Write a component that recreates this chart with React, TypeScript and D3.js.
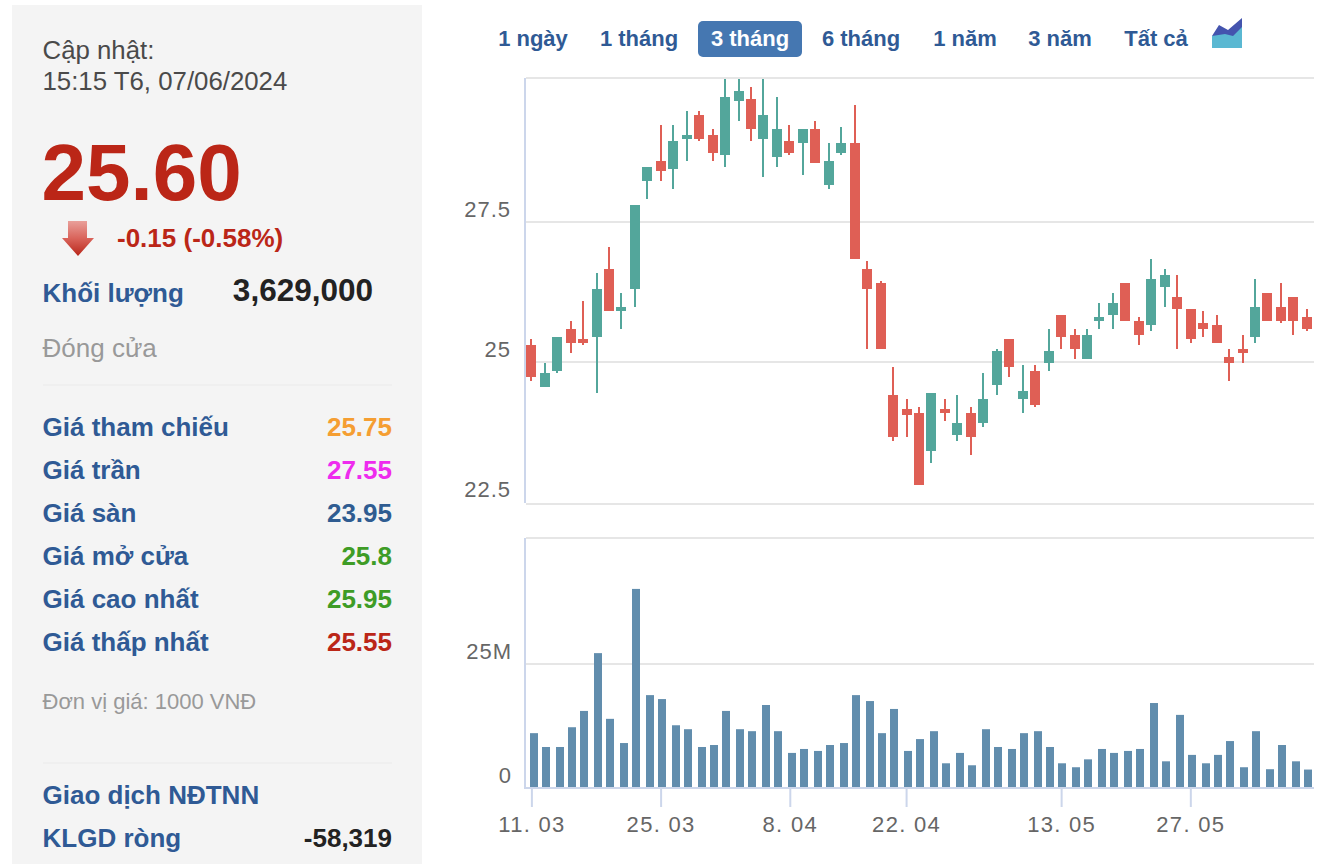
import { useEffect, useRef } from 'react';
import * as d3 from 'd3';

const dates = [
  '11. 03', '12. 03', '13. 03', '14. 03', '15. 03', '18. 03', '19. 03', '20. 03', '21. 03', '22. 03',
  '25. 03', '26. 03', '27. 03', '28. 03', '29. 03', '1. 04', '2. 04', '3. 04', '4. 04', '5. 04',
  '8. 04', '9. 04', '10. 04', '11. 04', '12. 04', '15. 04', '16. 04', '17. 04', '19. 04', '22. 04',
  '23. 04', '24. 04', '25. 04', '26. 04', '2. 05', '3. 05', '6. 05', '7. 05', '8. 05', '9. 05',
  '10. 05', '13. 05', '14. 05', '15. 05', '16. 05', '17. 05', '20. 05', '21. 05', '22. 05', '23. 05',
  '24. 05', '27. 05', '28. 05', '29. 05', '30. 05', '31. 05', '3. 06', '4. 06', '5. 06', '6. 06', '7. 06',
];
const opens = [
  25.3, 24.55, 24.85, 25.6, 25.4, 25.45, 26.65, 25.9, 26.3, 28.25,
  28.6, 28.45, 29.0, 29.4, 29.05, 28.7, 29.65, 29.7, 29.0, 28.65,
  28.95, 28.9, 29.15, 28.15, 28.75, 28.9, 26.65, 26.4, 24.4, 24.15,
  24.1, 23.4, 24.15, 23.7, 24.1, 23.9, 24.6, 25.4, 24.35, 24.85,
  25.0, 25.85, 25.5, 25.05, 25.75, 25.85, 26.4, 25.75, 25.65, 26.35,
  26.15, 25.95, 25.7, 25.65, 25.1, 25.25, 25.45, 26.25, 26.0, 26.15, 25.8,
];
const highs = [
  25.4, 25.0, 25.45, 25.75, 26.1, 26.6, 27.05, 26.25, 27.8, 28.5,
  29.25, 29.25, 29.5, 29.5, 29.15, 30.2, 30.2, 29.9, 30.2, 29.75,
  29.25, 29.15, 29.3, 28.9, 29.2, 29.6, 26.8, 26.45, 24.9, 24.35,
  24.2, 24.45, 24.35, 24.4, 24.2, 24.8, 25.25, 25.4, 24.95, 24.95,
  25.6, 25.85, 25.6, 25.6, 26.05, 26.25, 26.4, 25.8, 26.85, 26.65,
  26.55, 25.95, 25.9, 25.85, 25.25, 25.5, 26.5, 26.25, 26.4, 26.15, 25.95,
];
const lows = [
  24.65, 24.55, 24.8, 25.15, 25.3, 24.45, 25.9, 25.6, 26.0, 27.9,
  28.25, 28.1, 28.6, 28.95, 28.6, 28.5, 29.3, 28.95, 28.3, 28.5,
  28.7, 28.35, 28.55, 28.1, 28.7, 26.85, 25.25, 25.25, 23.6, 23.65,
  22.8, 23.2, 23.95, 23.6, 23.35, 23.85, 24.4, 24.75, 24.1, 24.2,
  24.85, 25.25, 25.05, 25.05, 25.6, 25.6, 25.75, 25.3, 25.55, 26.0,
  25.25, 25.35, 25.45, 25.35, 24.65, 25.0, 25.35, 25.75, 25.7, 25.5, 25.55,
];
const closes = [
  24.75, 24.8, 25.45, 25.35, 25.35, 26.3, 25.9, 26.0, 27.8, 28.5,
  28.4, 28.95, 29.05, 29.0, 28.75, 29.75, 29.85, 29.15, 29.4, 29.15,
  28.75, 29.15, 28.55, 28.6, 28.9, 26.85, 26.3, 25.25, 23.65, 24.05,
  22.8, 24.45, 24.1, 23.9, 23.65, 24.35, 25.2, 24.9, 24.5, 24.25,
  25.2, 25.45, 25.25, 25.5, 25.8, 26.05, 25.75, 25.5, 26.5, 26.55,
  25.95, 25.4, 25.6, 25.35, 25.0, 25.15, 26.0, 25.75, 25.75, 25.75, 25.6,
];
const volumes = [
  11.0, 8.2, 8.2, 12.2, 15.5, 27.2, 13.9, 9.0, 40.2, 18.7,
  17.9, 12.6, 11.8, 8.2, 8.6, 15.5, 11.8, 11.4, 16.7, 11.4,
  7.0, 7.8, 7.4, 8.6, 9.0, 18.7, 17.5, 11.0, 15.9, 7.4,
  9.8, 11.4, 4.9, 7.0, 4.5, 11.8, 8.2, 7.8, 11.0, 11.4,
  8.2, 4.9, 4.1, 5.7, 7.8, 7.0, 7.4, 7.8, 17.1, 5.3,
  14.7, 6.6, 4.9, 6.6, 9.4, 4.1, 11.4, 3.7, 8.6, 5.3, 3.63,
];
const dateTicks = ['11. 03', '25. 03', '8. 04', '22. 04', '13. 05', '27. 05'];
const priceTicks = [27.5, 25, 22.5];
const volumeTicks = [25, 0];

const ranges = ['1 ngày', '1 tháng', '3 tháng', '6 tháng', '1 năm', '3 năm', 'Tất cả'];
const rangeCenters = [533, 639, 750, 861, 965, 1060, 1156];
const activeRange = '3 tháng';

const priceRows = [
  { label: 'Giá tham chiếu', value: '25.75', color: '#f59e32' },
  { label: 'Giá trần', value: '27.55', color: '#ee2bee' },
  { label: 'Giá sàn', value: '23.95', color: '#2f5c91' },
  { label: 'Giá mở cửa', value: '25.8', color: '#3e9c26' },
  { label: 'Giá cao nhất', value: '25.95', color: '#3e9c26' },
  { label: 'Giá thấp nhất', value: '25.55', color: '#bb2617' },
];

const RED = '#df5f55';
const TEAL = '#53a69b';
const BLUE_TEXT = '#2f5a95';
const AXIS = '#ccd6eb';
const GRID = '#e6e6e6';
const SANS = '"Liberation Sans", Arial, sans-serif';

// candles sit on odd pixels in the original, keeps the jitter of the spacing
const snap = (v: number) => 2 * Math.round((v - 1) / 2) + 1;

function Chart() {
  const ref = useRef<SVGGElement>(null);

  useEffect(() => {
    if (!ref.current) return;
    const g = d3.select(ref.current);
    g.selectAll('*').remove();

    const left = 525;
    const right = 1314;

    const x = d3.scalePoint<string>().domain(dates).range([531.4, 1306.6]);
    const y = d3.scaleLinear().domain([22.5, 27.5]).range([502, 222]);
    const v = d3.scaleLinear().domain([0, 25]).range([787.5, 664]);

    const priceTop = 78;
    const priceBottom = 504;
    const volumeTop = 538;

    g.append('clipPath')
      .attr('id', 'price-clip')
      .append('rect')
      .attr('x', left)
      .attr('y', priceTop + 1)
      .attr('width', right - left)
      .attr('height', priceBottom - priceTop);

    // Grid lines
    const gridYs = [
      priceTop,
      priceBottom,
      ...priceTicks.filter(t => t !== 22.5).map(t => y(t)),
      volumeTop,
      ...volumeTicks.filter(t => t !== 0).map(t => v(t)),
    ];
    g.selectAll('.grid')
      .data(gridYs)
      .enter()
      .append('line')
      .attr('x1', left + 1)
      .attr('x2', right)
      .attr('y1', d => d)
      .attr('y2', d => d)
      .attr('stroke', GRID)
      .attr('stroke-width', 2);

    // Left axis lines
    [[priceTop, priceBottom - 1], [volumeTop, 788]].forEach(([a, b]) => {
      g.append('line')
        .attr('x1', left)
        .attr('x2', left)
        .attr('y1', a)
        .attr('y2', b)
        .attr('stroke', AXIS)
        .attr('stroke-width', 2);
    });

    // Y labels
    const labelStyle = (s: d3.Selection<any, any, any, any>) =>
      s.attr('font-family', SANS)
        .attr('font-size', 22)
        .attr('letter-spacing', 1)
        .attr('fill', '#666666');

    g.selectAll('.price-label')
      .data(priceTicks)
      .enter()
      .append('text')
      .attr('x', 511)
      .attr('y', d => y(d) - 5)
      .attr('text-anchor', 'end')
      .text(d => String(d))
      .call(labelStyle);

    g.selectAll('.volume-label')
      .data(volumeTicks)
      .enter()
      .append('text')
      .attr('x', 512)
      .attr('y', d => v(d) - 5)
      .attr('text-anchor', 'end')
      .text(d => (d === 0 ? '0' : `${d}M`))
      .call(labelStyle);

    // Candles
    const candles = g.append('g').attr('clip-path', 'url(#price-clip)');
    dates.forEach((d, i) => {
      const up = closes[i] >= opens[i];
      const color = up ? TEAL : RED;
      const cx = snap(x(d) as number);
      const top = snap(y(Math.max(opens[i], closes[i])));
      const bottom = snap(y(Math.min(opens[i], closes[i])));
      const hi = snap(y(highs[i]));
      const lo = snap(y(lows[i]));
      candles.append('rect')
        .attr('x', cx - 1)
        .attr('y', hi)
        .attr('width', 2)
        .attr('height', lo - hi)
        .attr('fill', color);
      candles.append('rect')
        .attr('x', cx - 5)
        .attr('y', top)
        .attr('width', 10)
        .attr('height', Math.max(bottom - top, 2))
        .attr('fill', color);
    });

    // Volume bars
    g.selectAll('.bar')
      .data(volumes)
      .enter()
      .append('rect')
      .attr('x', (d, i) => 2 * Math.round(((x(dates[i]) as number) - 2.2) / 2))
      .attr('y', d => v(d))
      .attr('width', 8)
      .attr('height', d => v(0) - v(d))
      .attr('fill', '#618dad');

    // X axis
    g.append('line')
      .attr('x1', left - 1)
      .attr('x2', right)
      .attr('y1', 788)
      .attr('y2', 788)
      .attr('stroke', AXIS)
      .attr('stroke-width', 2);

    const axis = g.append('g')
      .attr('transform', 'translate(0,788)')
      .call(d3.axisBottom(x).tickValues(dateTicks).tickSize(19).tickPadding(9).tickSizeOuter(0));
    axis.select('.domain').remove();
    axis.selectAll('line').attr('stroke', AXIS).attr('stroke-width', 2);
    axis.selectAll('text')
      .attr('font-family', SANS)
      .attr('font-size', 22)
      .attr('letter-spacing', 1.3)
      .attr('fill', '#666666');
  }, []);

  return <g ref={ref} />;
}

export default function App() {
  return (
    <svg
      width={1336}
      height={864}
      style={{ position: 'absolute', left: 0, top: 0, display: 'block', background: '#fff' }}
      fontFamily={SANS}
    >
      <defs>
        <linearGradient id="arrow-fill" x1="0" y1="0" x2="0" y2="1">
          <stop offset="0%" stopColor="#e9a09a" />
          <stop offset="50%" stopColor="#d9635a" />
          <stop offset="100%" stopColor="#b8261a" />
        </linearGradient>
      </defs>

      {/* Side panel */}
      <rect x={12} y={5} width={410} height={859} fill="#f4f4f4" />
      <text x={42.5} y={59} fontSize={25.8} fill="#4a4a4a">Cập nhật:</text>
      <text x={42.5} y={90} fontSize={25.8} fill="#4a4a4a">15:15 T6, 07/06/2024</text>
      <text x={41.5} y={200} fontSize={80} fontWeight="bold" fill="#bb2617">25.60</text>
      <path d="M68,221H87V238H94L78,256L62,238H68Z" fill="url(#arrow-fill)" />
      <text x={117} y={247} fontSize={26} fontWeight="bold" fill="#bb2617">-0.15 (-0.58%)</text>
      <text x={42.5} y={302} fontSize={26} fontWeight="bold" fill={BLUE_TEXT}>Khối lượng</text>
      <text x={373} y={301} fontSize={31.5} fontWeight="bold" fill="#222222" textAnchor="end">3,629,000</text>
      <text x={42.5} y={357} fontSize={26} fill="#999999">Đóng cửa</text>
      <line x1={43} x2={392} y1={385} y2={385} stroke="#eeeeee" strokeWidth={1.5} />
      {priceRows.map((r, i) => (
        <g key={r.label}>
          <text x={42.5} y={436 + i * 43} fontSize={26} fontWeight="bold" fill={BLUE_TEXT}>{r.label}</text>
          <text x={392} y={436 + i * 43} fontSize={26} fontWeight="bold" fill={r.color} textAnchor="end">{r.value}</text>
        </g>
      ))}
      <text x={42.5} y={709} fontSize={22} fill="#999999">Đơn vị giá: 1000 VNĐ</text>
      <line x1={43} x2={392} y1={763} y2={763} stroke="#eeeeee" strokeWidth={1.5} />
      <text x={42.5} y={804} fontSize={26} fontWeight="bold" fill={BLUE_TEXT}>Giao dịch NĐTNN</text>
      <text x={42.5} y={847} fontSize={26} fontWeight="bold" fill={BLUE_TEXT}>KLGD ròng</text>
      <text x={392} y={847} fontSize={26} fontWeight="bold" fill="#222222" textAnchor="end">-58,319</text>

      {/* Range buttons */}
      <rect x={698} y={21} width={104} height={36} rx={5} fill="#4577b1" />
      {ranges.map((r, i) => (
        <text
          key={r}
          x={rangeCenters[i]}
          y={46}
          fontSize={22}
          fontWeight="bold"
          textAnchor="middle"
          fill={r === activeRange ? '#ffffff' : BLUE_TEXT}
        >
          {r}
        </text>
      ))}
      <path d="M1212,48V36L1219,25L1228,30L1242,18V48Z" fill="#4454ae" />
      <path d="M1212,48V36L1225,34L1233,36L1242,27V48Z" fill="#5ab8d2" />

      <Chart />
    </svg>
  );
}
